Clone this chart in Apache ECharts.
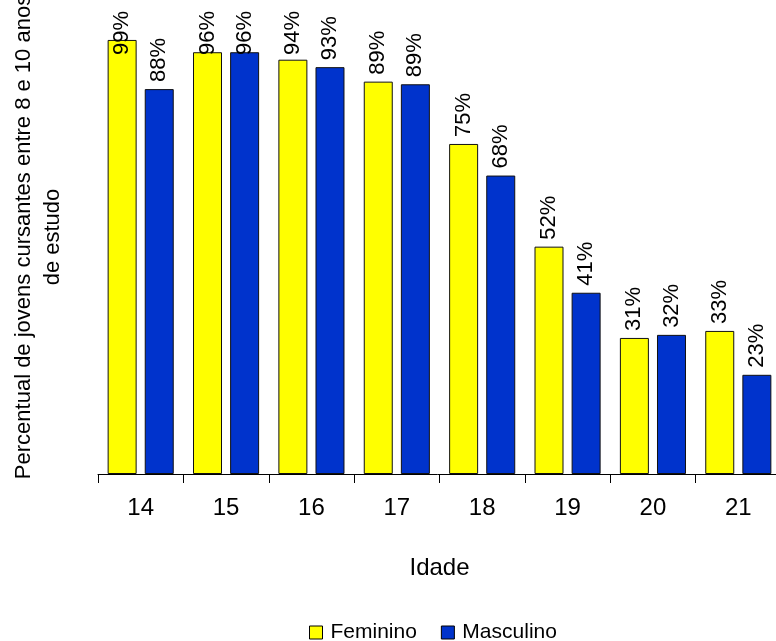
<!DOCTYPE html>
<html>
<head>
<meta charset="utf-8">
<script src="https://cdn.jsdelivr.net/npm/echarts@6/dist/echarts.min.js"></script>
<style>
html,body{margin:0;padding:0;background:#fff;}
#chart{width:776px;height:641px;}
</style>
</head>
<body>
<div id="chart"></div>
<script>
var categories = ['14', '15', '16', '17', '18', '19', '20', '21'];
var feminino = [98.9, 96.1, 94.4, 89.4, 75.2, 51.8, 31.0, 32.6];
var masculino = [87.7, 96.1, 92.7, 88.8, 68.0, 41.3, 31.7, 22.6];
var seriesNames = ['Feminino', 'Masculino'];
var xAxisTitle = 'Idade';
var yAxisTitle = 'Percentual de jovens cursantes entre 8 e 10 anos\nde estudo';

var FONT = '"Liberation Sans", Arial, sans-serif';
var LABEL_DIST = 7;
var LABEL_MIN_TOP = 11;
var chart = echarts.init(document.getElementById('chart'), null, {renderer: 'canvas'});

function labelCfg() {
  return {
    show: true,
    position: 'top',
    rotate: 90,
    align: 'left',
    verticalAlign: 'middle',
    distance: LABEL_DIST,
    fontFamily: FONT,
    fontSize: 22,
    color: '#000',
    formatter: function (p) { return Math.round(p.value) + '%'; }
  };
}
function clampLayout(p) {
  var r = p.labelRect;
  var b = p.rect;
  var len = Math.max(r.width, r.height);
  var anchorY = b.y - LABEL_DIST;
  if (anchorY - len < LABEL_MIN_TOP) {
    return {x: b.x + b.width / 2, y: LABEL_MIN_TOP + len};
  }
  return {};
}

chart.setOption({
  animation: false,
  backgroundColor: '#fff',
  textStyle: {fontFamily: FONT},
  grid: {left: 98, top: 0, width: 683, bottom: 167, containLabel: false, outerBoundsMode: 'none'},
  legend: {
    data: seriesNames,
    left: 304,
    top: 617,
    icon: 'rect',
    itemWidth: 13,
    itemHeight: 13,
    itemGap: 24,
    itemStyle: {borderColor: '#000', borderWidth: 1},
    textStyle: {fontFamily: FONT, fontSize: 21, color: '#000', padding: [0, 0, 0, 3]}
  },
  xAxis: {
    type: 'category',
    data: categories,
    name: xAxisTitle,
    nameLocation: 'middle',
    nameGap: 82,
    nameTextStyle: {fontFamily: FONT, fontSize: 24, color: '#000'},
    axisLine: {lineStyle: {color: '#000', width: 1}},
    axisTick: {show: true, length: 9, lineStyle: {color: '#000'}},
    axisLabel: {fontFamily: FONT, fontSize: 24, color: '#000', margin: 22}
  },
  yAxis: {
    type: 'value',
    min: 0,
    max: 108,
    name: yAxisTitle,
    nameLocation: 'middle',
    nameGap: 31,
    nameTextStyle: {fontFamily: FONT, fontSize: 22, lineHeight: 29, color: '#000', align: 'center'},
    axisLine: {show: false},
    axisTick: {show: false},
    axisLabel: {show: false},
    splitLine: {show: false}
  },
  series: [
    {
      name: seriesNames[0],
      type: 'bar',
      data: feminino,
      barWidth: 29,
      barGap: '28%',
      itemStyle: {color: '#FFFF00', borderColor: '#111', borderWidth: 1},
      label: labelCfg(),
      labelLayout: clampLayout
    },
    {
      name: seriesNames[1],
      type: 'bar',
      data: masculino,
      barWidth: 29,
      barGap: '28%',
      itemStyle: {color: '#0033CC', borderColor: '#111', borderWidth: 1},
      label: labelCfg(),
      labelLayout: clampLayout
    }
  ]
});
</script>
</body>
</html>
